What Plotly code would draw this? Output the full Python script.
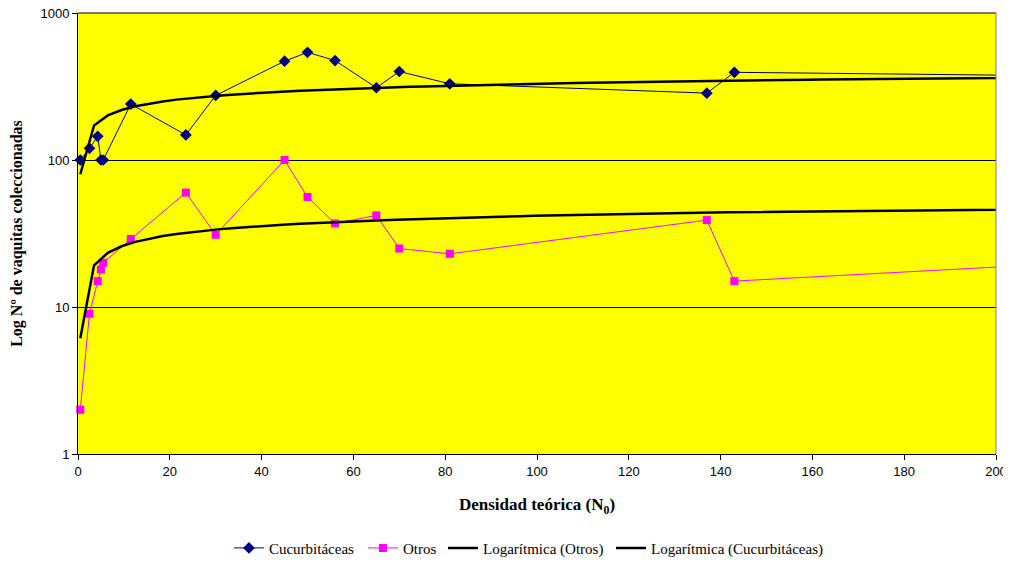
import numpy as np
import plotly.graph_objects as go

# Data
densidad = [0.5, 2.5, 4.3, 5, 5.5, 11.5, 23.5, 30, 45, 50, 56, 65, 70, 81, 137, 143, 300]
cucurbitaceas = [100, 120, 145, 100, 100, 240, 148, 275, 470, 540, 475, 310, 400, 330, 285, 395, 350]
otros = [2, 9, 15, 18, 20, 29, 60, 31, 100, 56, 37, 42, 25, 23, 39, 15, 27.5]

# Logarithmic trendline coefficients (y = a*ln(x) + b)
trend_cucurbitaceas = (47.2, 112.7)
trend_otros = (6.72, 10.78)

x_ticks = list(range(0, 201, 20))
y_ticks = [1, 10, 100, 1000]


def log_trend(x, coef, n=100):
    a, b = coef
    xs = np.linspace(min(x), max(x), n + 1)
    return xs, a * np.log(xs) + b


tx_c, ty_c = log_trend(densidad, trend_cucurbitaceas)
tx_o, ty_o = log_trend(densidad, trend_otros)

fig = go.Figure()
fig.add_trace(go.Scatter(
    x=densidad, y=cucurbitaceas, name="Cucurbitáceas", mode="lines+markers",
    line=dict(color="#000080", width=1),
    marker=dict(symbol="diamond", size=9, color="#000080"),
    cliponaxis=False, legend="legend"))
fig.add_trace(go.Scatter(
    x=densidad, y=otros, name="Otros", mode="lines+markers",
    line=dict(color="#FF00FF", width=1),
    marker=dict(symbol="square", size=8, color="#FF00FF"),
    cliponaxis=False, legend="legend2"))
fig.add_trace(go.Scatter(
    x=tx_o, y=ty_o, name="Logarítmica (Otros)", mode="lines",
    line=dict(color="black", width=2.5), legend="legend3"))
fig.add_trace(go.Scatter(
    x=tx_c, y=ty_c, name="Logarítmica (Cucurbitáceas)", mode="lines",
    line=dict(color="black", width=2.5), legend="legend4"))

legend_font = dict(family="Liberation Serif", size=15, color="black")


def legend_at(x):
    return dict(orientation="h", x=x, xanchor="left", yref="container", xref="container",
                y=0.025, yanchor="middle", font=legend_font, itemwidth=30,
                bgcolor="rgba(0,0,0,0)")


# page body has an 8px margin, so the figure is 8px smaller and shifted
fig.update_layout(
    width=1003, height=554,
    margin=dict(l=70, r=15, t=5, b=108, autoexpand=False),
    paper_bgcolor="white", plot_bgcolor="#FFFF00",
    font=dict(family="Liberation Sans", size=13, color="black"),
    showlegend=True,
    legend=legend_at(0.2203),
    legend2=legend_at(0.3539),
    legend3=legend_at(0.4337),
    legend4=legend_at(0.6012),
)
fig.update_xaxes(
    range=[0, 200], tickvals=x_ticks, ticks="outside", ticklen=5, tickcolor="black",
    showline=True, linecolor="black", linewidth=1, mirror=False, showgrid=False,
    zeroline=False, automargin=False, ticklabeloverflow="allow",
    title=dict(text="<b>Densidad teórica (N<sub>0</sub>)</b>",
               font=dict(family="Liberation Serif", size=17), standoff=20))
fig.update_yaxes(
    type="log", range=[0, 3.00001], tickvals=y_ticks, ticktext=[str(v) for v in y_ticks],
    ticks="outside", ticklen=5, tickcolor="black",
    showline=True, linecolor="black", linewidth=1, showgrid=True,
    gridcolor="black", gridwidth=1, zeroline=False, automargin=False,
    ticklabeloverflow="allow",
    title=dict(text="<b>Log Nº de vaquitas coleccionadas</b>",
               font=dict(family="Liberation Serif", size=16), standoff=19))
# plot area border: black top, gray right
fig.add_shape(type="line", xref="paper", yref="paper", x0=0, y0=1, x1=1, y1=1,
              line=dict(color="black", width=1), layer="above")
fig.add_shape(type="line", xref="paper", yref="paper", x0=1, y0=0, x1=1, y1=1,
              line=dict(color="#808080", width=1), layer="above")

fig.write_html("out.html")
